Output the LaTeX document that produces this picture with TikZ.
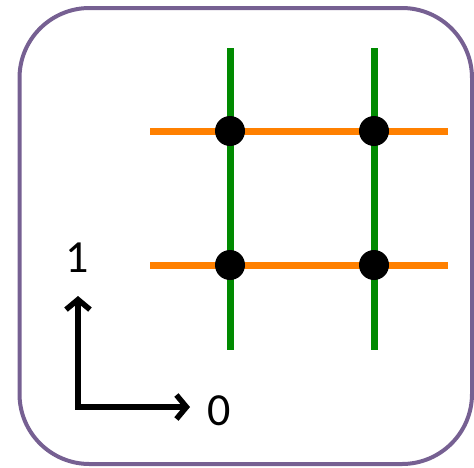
\documentclass[tikz,border=0pt]{standalone}
\usepackage{fontspec}
\setmainfont{Carlito}
\usetikzlibrary{arrows.meta}

\definecolor{framepurple}{RGB}{118,96,146}
\definecolor{wiregreen}{RGB}{0,138,0}
\definecolor{wireorange}{RGB}{255,128,0}

\begin{document}
\begin{tikzpicture}[x=1pt,y=-1pt,
    dot/.style={circle,fill=black,inner sep=0pt,minimum size=30pt},
    wire/.style={line width=7pt},
    axis/.style={line width=5.5pt,{Straight Barb[length=10pt,width=24pt]}-{Straight Barb[length=10pt,width=24pt]}},
    lbl/.style={font=\fontsize{46}{52}\selectfont}]
    \useasboundingbox (0,0) rectangle (474,467);
    \draw[line width=4pt, framepurple, rounded corners=70pt] (19.5,8) rectangle (472,464);

    % vertikalios
    \coordinate (V1a) at (230,48);
    \coordinate (V1b) at (230,350);
    \coordinate (V2a) at (374,48);
    \coordinate (V2b) at (374,350);
    % horizontalios
    \coordinate (H1a) at (150,131);
    \coordinate (H1b) at (448,131);
    \coordinate (H2a) at (150,265);
    \coordinate (H2b) at (448,265);

    \draw[wire, wiregreen] (V1a) -- (V1b);
    \draw[wire, wiregreen] (V2a) -- (V2b);
    \draw[wire, wireorange] (H1a) -- (H1b);
    \draw[wire, wireorange] (H2a) -- (H2b);

    \foreach \v/\h in {1/1, 2/1, 1/2, 2/2} {
        \node[dot] (d\v\h) at (V\v a |- H\h a) {};
    }

    % ašys
    \coordinate (O) at (78,407);
    \coordinate (Y) at (78,296);
    \coordinate (X) at (190,407);
    \draw[axis] (Y) -- (O) -- (X);
    \node[lbl] (l1) at (77,258) {1};
    \node[lbl] (l0) at (219,411) {0};
\end{tikzpicture}
\end{document}
